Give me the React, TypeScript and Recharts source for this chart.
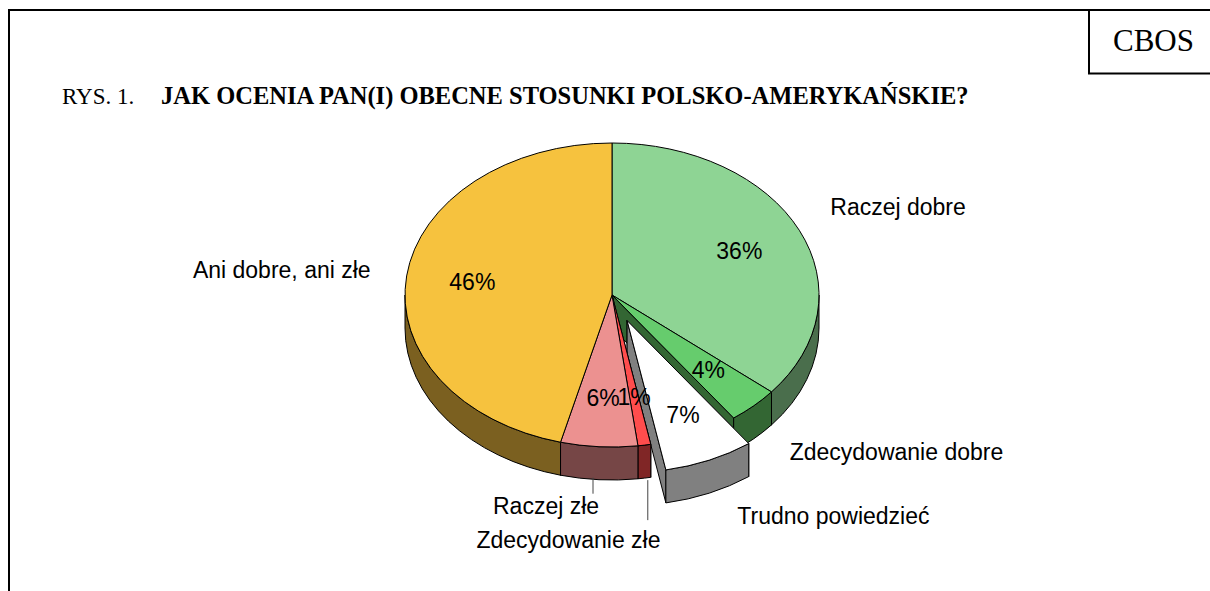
import React from 'react';
import { PieChart, Pie, Cell } from 'recharts';

// ---- data ----
const CATEGORIES = [
  'Raczej dobre',
  'Zdecydowanie dobre',
  'Trudno powiedzieć',
  'Zdecydowanie złe',
  'Raczej złe',
  'Ani dobre, ani złe',
];
const VALUES = [36, 4, 7, 1, 6, 46];
const EXPLODED = ['Trudno powiedzieć'];

// ---- styles ----
const TOP_COLORS = ['#8ED494', '#66CC6D', '#FFFFFF', '#FF4D4D', '#EC9190', '#F6C23E'];
const SIDE_COLORS = ['#4A6E4C', '#336633', '#808080', '#802626', '#764646', '#7B6020'];

const data = CATEGORIES.map((name, i) => ({ name, value: VALUES[i] }));

const CX = 612;
const CY = 295;
const RADIUS = 207;
const TILT = 152 / 207;
const DEPTH = 33;
const EXPLODE = 38;
const RAD = Math.PI / 180;
const SANS = "'Liberation Sans', Arial, sans-serif";
const SERIF = "'Liberation Serif', 'Times New Roman', serif";

type LabelPos = { dx: number; dy: number; anchor: 'start' | 'end' | 'middle'; line?: [number, number, number, number] };
const NAME_LABELS: Record<string, LabelPos> = {
  'Raczej dobre': { dx: 31, dy: -15, anchor: 'start' },
  'Zdecydowanie dobre': { dx: 36, dy: 54, anchor: 'start' },
  'Trudno powiedzieć': { dx: 28, dy: 64, anchor: 'start' },
  'Zdecydowanie złe': { dx: -168, dy: 103, anchor: 'start', line: [3.4, 35, 3.4, 75] },
  'Raczej złe': { dx: -106, dy: 67, anchor: 'start', line: [-6, 31, -6, 47] },
  'Ani dobre, ani złe': { dx: -36, dy: 2, anchor: 'end' },
};

function nameOf(props: any): string {
  return (props.payload && props.payload.name) || props.name;
}

function geom(props: any) {
  const { cx, cy, outerRadius, startAngle, endAngle } = props;
  const rx = outerRadius;
  const ry = outerRadius * TILT;
  const s = Math.max(startAngle, endAngle);
  const e = Math.min(startAngle, endAngle);
  const mid = (s + e) / 2;
  const ex = EXPLODED.includes(nameOf(props)) ? EXPLODE : 0;
  const ox = cx + ex * Math.cos(mid * RAD);
  const oy = cy - ex * TILT * Math.sin(mid * RAD);
  const pt = (a: number, dy = 0): [number, number] => [
    ox + rx * Math.cos(a * RAD),
    oy - ry * Math.sin(a * RAD) + dy,
  ];
  return { rx, ry, s, e, mid, ox, oy, pt };
}

const TopShape = (props: any) => {
  const { rx, ry, s, e, ox, oy, pt } = geom(props);
  const [x1, y1] = pt(s);
  const [x2, y2] = pt(e);
  const large = s - e > 180 ? 1 : 0;
  const d = `M${ox},${oy} L${x1},${y1} A${rx},${ry} 0 ${large} 1 ${x2},${y2} Z`;
  return <path d={d} fill={props.fill} stroke="#000" strokeWidth={1} strokeLinejoin="round" />;
};

const WallShape = (props: any) => {
  const { s, e, ox, oy, pt } = geom(props);
  const paths = [s, e].map((a) => {
    const [x, y] = pt(a);
    return `M${ox},${oy} L${x},${y} L${x},${y + DEPTH} L${ox},${oy + DEPTH} Z`;
  });
  return (
    <g>
      {paths.map((d, i) => (
        <path key={i} d={d} fill={props.fill} stroke="#000" strokeWidth={1} strokeLinejoin="round" />
      ))}
    </g>
  );
};

const SideShape = (props: any) => {
  const { rx, ry, s, e, pt } = geom(props);
  const segs: [number, number][] = [];
  for (let k = -2; k <= 2; k++) {
    const lo = Math.max(e, -180 + 360 * k);
    const hi = Math.min(s, 360 * k);
    if (hi > lo) segs.push([lo, hi]);
  }
  return (
    <g>
      {segs.map(([lo, hi], i) => {
        const [x1, y1] = pt(hi);
        const [x2, y2] = pt(lo);
        const large = hi - lo > 180 ? 1 : 0;
        const d = `M${x1},${y1} A${rx},${ry} 0 ${large} 1 ${x2},${y2} L${x2},${y2 + DEPTH} A${rx},${ry} 0 ${large} 0 ${x1},${y1 + DEPTH} Z`;
        return <path key={i} d={d} fill={props.fill} stroke="#000" strokeWidth={1} strokeLinejoin="round" />;
      })}
    </g>
  );
};

const renderLabel = (props: any) => {
  const { cx, cy, outerRadius, midAngle, value } = props;
  const name = nameOf(props);
  const ex = EXPLODED.includes(name) ? EXPLODE : 0;
  const c = Math.cos(midAngle * RAD);
  const sn = Math.sin(midAngle * RAD);
  const ox = cx + ex * c;
  const oy = cy - ex * TILT * sn;
  const rx = outerRadius;
  const ry = outerRadius * TILT;
  const px = ox + rx * 0.68 * c;
  const py = oy - ry * 0.68 * sn;
  const rimX = ox + rx * c;
  const rimY = oy - ry * sn;
  const L = NAME_LABELS[name];
  return (
    <g>
      <text x={px} y={py} textAnchor="middle" dominantBaseline="central" fontFamily={SANS} fontSize={23} fill="#000">
        {`${value}%`}
      </text>
      {L && (
        <text x={rimX + L.dx} y={rimY + L.dy} textAnchor={L.anchor} fontFamily={SANS} fontSize={23} fill="#000">
          {name}
        </text>
      )}
      {L && L.line && (
        <line
          x1={rimX + L.line[0]}
          y1={rimY + L.line[1]}
          x2={rimX + L.line[2]}
          y2={rimY + L.line[3]}
          stroke="#444"
          strokeWidth={1}
        />
      )}
    </g>
  );
};

const commonPie = {
  data,
  dataKey: 'value',
  nameKey: 'name',
  cx: CX,
  cy: CY,
  outerRadius: RADIUS,
  innerRadius: 0,
  startAngle: 90,
  endAngle: -270,
  isAnimationActive: false,
  stroke: '#000',
} as const;

export default function App() {
  return (
    <div style={{ position: 'absolute', left: 0, top: 0, width: 1210, height: 591, overflow: 'hidden', background: '#fff' }}>
      <svg width={1210} height={591} style={{ position: 'absolute', left: 0, top: 0 }}>
        <line x1={8} y1={10} x2={1210} y2={10} stroke="#000" strokeWidth={2} />
        <line x1={9} y1={9} x2={9} y2={591} stroke="#000" strokeWidth={2} />
        <line x1={1089} y1={10} x2={1089} y2={74} stroke="#000" strokeWidth={2} />
        <line x1={1088} y1={73.5} x2={1210} y2={73.5} stroke="#000" strokeWidth={2} />
        <text x={1113} y={51} fontFamily={SERIF} fontSize={31} fill="#000">CBOS</text>
        <text x={62} y={104} fontFamily={SERIF} fontSize={23} fill="#000">RYS. 1.</text>
        <text x={161} y={104} fontFamily={SERIF} fontSize={24.5} fontWeight="bold" fill="#000">
          JAK OCENIA PAN(I) OBECNE STOSUNKI POLSKO-AMERYKAŃSKIE?
        </text>
      </svg>
      <div style={{ position: 'absolute', left: 0, top: 0 }}>
        <PieChart width={1210} height={591} margin={{ top: 0, right: 0, bottom: 0, left: 0 }}>
          <Pie {...commonPie} shape={WallShape} inactiveShape={WallShape} activeShape={WallShape} label={false} labelLine={false}>
            {data.map((d, i) => (
              <Cell key={d.name} fill={SIDE_COLORS[i]} />
            ))}
          </Pie>
          <Pie {...commonPie} shape={SideShape} inactiveShape={SideShape} activeShape={SideShape} label={false} labelLine={false}>
            {data.map((d, i) => (
              <Cell key={d.name} fill={SIDE_COLORS[i]} />
            ))}
          </Pie>
          <Pie {...commonPie} shape={TopShape} inactiveShape={TopShape} activeShape={TopShape} label={renderLabel} labelLine={false}>
            {data.map((d, i) => (
              <Cell key={d.name} fill={TOP_COLORS[i]} />
            ))}
          </Pie>
        </PieChart>
      </div>
    </div>
  );
}
